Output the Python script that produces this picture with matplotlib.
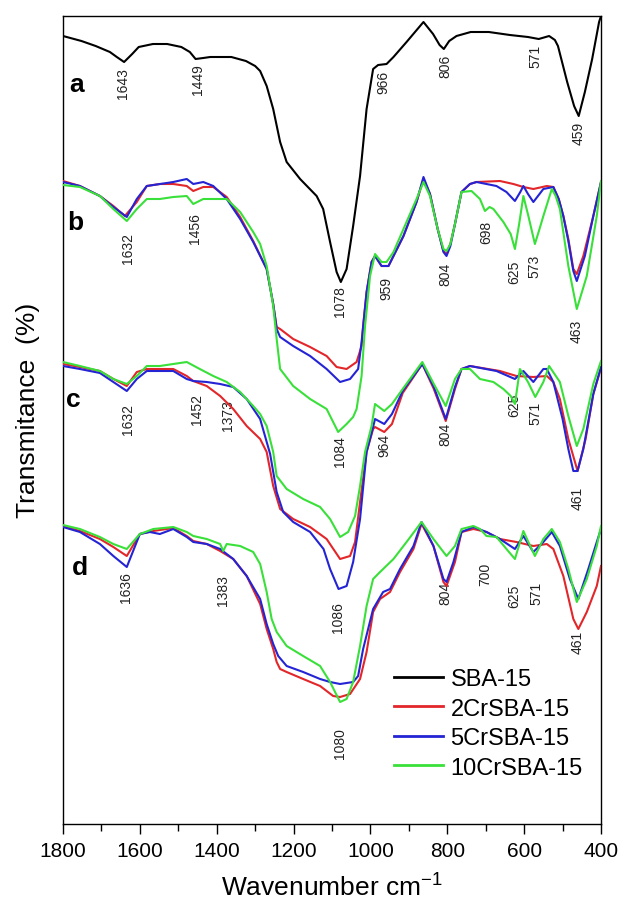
#!/usr/bin/env python3
"""FTIR spectra of SBA-15 and CrSBA-15 samples, stacked groups a-d."""

import matplotlib.pyplot as plt
from matplotlib.lines import Line2D
from matplotlib.ticker import MultipleLocator

plt.rcParams["font.family"] = ["Liberation Sans", "DejaVu Sans"]
plt.rcParams["mathtext.fontset"] = "custom"
plt.rcParams["mathtext.rm"] = "Liberation Sans"
plt.rcParams["mathtext.default"] = "regular"

SAMPLES = ["SBA-15", "2CrSBA-15", "5CrSBA-15", "10CrSBA-15"]
COLORS = ["#000000", "#e2262a", "#2424d4", "#3ae03a"]

# group a: SBA-15 (offset transmittance, arbitrary units)
A_WN = [1800, 1752, 1715, 1678, 1660, 1641, 1620, 1603, 1566, 1529, 1492, 1470, 1455, 1435, 1417,
        1362, 1324, 1300, 1287, 1270, 1253, 1235, 1218, 1183, 1140, 1123, 1105, 1088, 1077, 1062,
        1045, 1027, 1010, 993, 980, 958, 940, 906, 862, 837, 820, 809, 795, 776, 739, 692, 637,
        590, 562, 535, 520, 512, 500, 488, 470, 458, 442, 423, 405, 400]
A_T = [788, 783, 778, 772, 767, 762, 770, 777, 780, 780, 777, 772, 765, 766, 767,
       767, 763, 758, 753, 738, 715, 682, 662, 645, 628, 615, 582, 552, 542, 555,
       598, 648, 715, 755, 759, 760, 767, 782, 802, 790, 779, 775, 783, 788, 792, 792, 789,
       787, 785, 788, 784, 778, 760, 742, 718, 708, 732, 765, 802, 808]

# group b
B_RED_WN = [1800, 1756, 1704, 1669, 1639, 1608, 1582, 1548, 1513, 1478, 1461, 1435, 1409, 1374,
            1339, 1305, 1270, 1253, 1244, 1235, 1201, 1157, 1114, 1088, 1062, 1036, 1023, 1019,
            1010, 997, 988, 971, 953, 940, 914, 880, 862, 845, 825, 810, 802, 792, 780, 763, 741,
            724, 663, 628, 602, 576, 541, 524, 510, 498, 485, 472, 463, 446, 420, 400]
B_RED_T = [643, 638, 628, 618, 608, 622, 638, 640, 640, 638, 633, 637, 637, 627,
           607, 583, 555, 520, 497, 495, 485, 477, 468, 457, 455, 462, 478, 498,
           532, 562, 568, 558, 558, 568, 588, 622, 645, 630, 595, 573, 570, 580, 600, 632, 640,
           642, 643, 640, 637, 635, 638, 637, 625, 608, 585, 555, 550, 568, 608, 642]
B_BLUE_WN = [1800, 1756, 1704, 1669, 1634, 1608, 1582, 1513, 1478, 1461, 1435, 1409, 1374, 1339,
             1305, 1270, 1253, 1244, 1235, 1201, 1157, 1114, 1079, 1053, 1032, 1023, 1010, 997,
             988, 971, 953, 940, 914, 880, 862, 845, 825, 810, 802, 792, 780, 763, 741, 724, 672,
             646, 624, 610, 602, 590, 576, 560, 550, 524, 510, 498, 485, 472, 463, 442, 420, 400]
B_BLUE_T = [642, 638, 628, 617, 607, 625, 638, 642, 645, 640, 642, 638, 625, 605,
            582, 555, 520, 495, 487, 478, 468, 455, 442, 445, 455, 482, 532, 562,
            568, 558, 558, 568, 588, 622, 647, 630, 595, 572, 568, 578, 600, 632, 640, 642, 638,
            632, 623, 632, 638, 630, 622, 630, 635, 637, 625, 608, 583, 553, 543, 568, 608, 642]
B_GREEN_WN = [1800, 1756, 1704, 1669, 1634, 1608, 1582, 1548, 1513, 1478, 1461, 1435, 1374, 1339,
              1305, 1287, 1270, 1253, 1244, 1235, 1201, 1157, 1114, 1084, 1062, 1045, 1036, 1023,
              1014, 1001, 988, 971, 958, 940, 914, 880, 862, 845, 825, 810, 802, 792, 780, 763,
              737, 715, 702, 690, 680, 654, 635, 624, 613, 602, 589, 572, 560, 550, 528, 518, 507,
              485, 463, 437, 411, 400]
B_GREEN_T = [639, 637, 628, 615, 603, 615, 625, 625, 627, 628, 620, 625, 625, 612,
             592, 580, 558, 518, 485, 455, 438, 425, 415, 392, 400, 407, 415, 448,
             498, 548, 570, 562, 562, 572, 595, 625, 642, 628, 595, 575, 573, 580, 600, 632,
             633, 625, 613, 617, 615, 602, 590, 575, 600, 628, 608, 580, 595, 608, 635, 628, 615,
             558, 515, 548, 608, 643]

# group c
C_RED_WN = [1800, 1756, 1704, 1669, 1634, 1608, 1582, 1548, 1513, 1478, 1461, 1426, 1391, 1357,
            1322, 1287, 1270, 1253, 1235, 1201, 1157, 1114, 1079, 1053, 1040, 1027, 1010, 993,
            988, 964, 944, 916, 865, 835, 804, 780, 763, 741, 663, 620, 576, 541, 524, 507, 485,
            461, 440, 420, 400]
C_RED_T = [460, 457, 453, 445, 438, 452, 455, 455, 455, 448, 443, 438, 428, 415,
           398, 385, 372, 338, 315, 305, 297, 285, 265, 268, 282, 322, 372, 395,
           397, 392, 400, 431, 460, 435, 403, 435, 455, 458, 453, 448, 447, 448, 442, 425, 385,
           353, 385, 430, 456]
C_BLUE_WN = [1800, 1756, 1704, 1669, 1634, 1608, 1582, 1513, 1478, 1461, 1426, 1391, 1357, 1322,
             1287, 1261, 1244, 1227, 1201, 1157, 1122, 1105, 1083, 1062, 1045, 1027, 1010, 993,
             988, 964, 944, 916, 865, 835, 804, 780, 763, 741, 672, 624, 602, 576, 550, 541, 524,
             500, 485, 472, 461, 446, 420, 400]
C_BLUE_T = [458, 455, 451, 442, 433, 445, 453, 453, 445, 443, 442, 440, 437, 425,
            405, 370, 332, 312, 302, 292, 275, 255, 235, 238, 262, 305, 372, 397,
            405, 400, 410, 433, 460, 437, 405, 437, 455, 458, 453, 445, 453, 442, 455, 455, 442,
            405, 375, 353, 353, 375, 430, 457]
C_GREEN_WN = [1800, 1756, 1704, 1669, 1634, 1608, 1582, 1548, 1513, 1478, 1444, 1409, 1374, 1339,
              1305, 1287, 1270, 1253, 1244, 1218, 1175, 1131, 1105, 1079, 1058, 1040, 1027, 1014,
              997, 988, 964, 944, 916, 865, 835, 804, 780, 763, 741, 715, 680, 654, 635, 624, 611,
              590, 571, 550, 535, 507, 485, 463, 446, 420, 400]
C_GREEN_T = [462, 458, 453, 445, 440, 448, 458, 458, 460, 462, 455, 448, 442, 432,
             418, 410, 398, 372, 348, 335, 325, 317, 305, 287, 292, 308, 338, 372,
             398, 420, 413, 420, 435, 462, 440, 418, 445, 455, 455, 445, 442, 435, 428, 420, 455,
             442, 427, 442, 458, 442, 408, 378, 395, 440, 463]

# group d
D_RED_WN = [1800, 1756, 1704, 1669, 1634, 1600, 1565, 1513, 1478, 1461, 1426, 1391, 1357, 1322,
            1287, 1270, 1253, 1244, 1235, 1218, 1175, 1131, 1097, 1079, 1053, 1027, 1010, 993,
            975, 949, 923, 888, 867, 836, 810, 802, 780, 763, 732, 698, 663, 620, 576, 541, 524,
            498, 472, 459, 437, 411, 400]
D_RED_T = [298, 293, 285, 277, 268, 290, 293, 296, 288, 283, 280, 273, 265, 248,
           220, 195, 175, 162, 155, 152, 145, 138, 128, 127, 130, 145, 172, 212,
           225, 232, 252, 275, 300, 278, 242, 238, 262, 292, 295, 292, 285, 282, 278, 280, 275,
           248, 205, 195, 212, 238, 258]
D_BLUE_WN = [1800, 1756, 1704, 1669, 1634, 1600, 1574, 1548, 1513, 1478, 1461, 1426, 1391, 1357,
             1322, 1287, 1270, 1253, 1240, 1218, 1175, 1131, 1105, 1079, 1045, 1032, 1019, 993,
             967, 949, 923, 888, 867, 836, 810, 802, 784, 763, 732, 698, 663, 624, 602, 576, 550,
             528, 507, 481, 459, 433, 411, 400]
D_BLUE_T = [297, 292, 280, 268, 257, 290, 292, 290, 295, 287, 282, 280, 275, 265,
            248, 225, 200, 180, 168, 158, 152, 145, 142, 140, 142, 148, 175, 215,
            232, 235, 255, 278, 302, 278, 245, 242, 262, 292, 297, 292, 285, 275, 288, 272, 282,
            292, 278, 245, 225, 255, 282, 295]
D_GREEN_WN = [1800, 1756, 1704, 1669, 1634, 1600, 1565, 1513, 1478, 1461, 1426, 1391, 1383, 1374,
              1339, 1305, 1287, 1270, 1257, 1244, 1218, 1175, 1131, 1105, 1079, 1062, 1045, 1027,
              1010, 993, 975, 940, 906, 867, 836, 802, 780, 763, 732, 715, 698, 672, 646, 624,
              602, 589, 572, 550, 528, 507, 485, 463, 437, 411, 400]
D_GREEN_T = [299, 295, 287, 280, 275, 290, 295, 297, 292, 288, 285, 280, 273, 280,
             278, 272, 260, 232, 205, 192, 178, 168, 158, 142, 122, 125, 142, 178,
             218, 245, 252, 265, 282, 302, 285, 268, 278, 295, 298, 295, 288, 287, 275, 265,
             293, 282, 268, 285, 295, 282, 255, 222, 245, 278, 298]

# peak labels (wavenumber text) and where they sit
A_PEAKS = ["1643", "1449", "1078", "966", "806", "571", "459"]
A_PEAK_XY = [(1643, 741), (1449, 745), (1078, 523), (966, 743), (806, 759), (571, 769), (459, 692)]
B_PEAKS = ["1632", "1456", "1084", "959", "804", "698", "625", "573", "463"]
B_PEAK_XY = [(1632, 577), (1456, 596), (1080, 373), (959, 537), (804, 551), (698, 593),
             (625, 553), (573, 559), (463, 494)]
C_PEAKS = ["1632", "1452", "1373", "1086", "964", "804", "625", "571", "461"]
C_PEAK_XY = [(1632, 405), (1452, 415), (1371, 409), (1084, 207), (964, 380), (804, 391),
             (625, 420), (571, 412), (461, 327)]
D_PEAKS = ["1636", "1383", "1080", "804", "700", "625", "571", "461"]
D_PEAK_XY = [(1636, 237), (1383, 234), (1079, 81), (804, 232), (700, 251), (625, 229),
             (568, 232), (461, 183)]

GROUP_LETTERS = ["a", "b", "c", "d"]
LETTER_XY = [(1766, 740), (1769, 602), (1774, 425), (1756, 257)]


def main() -> None:
    fig = plt.figure(figsize=(6.23, 9.04), dpi=100)
    ax = fig.add_axes([63 / 623, 79 / 904, 538 / 623, 808 / 904])

    groups = [
        [(A_WN, A_T, COLORS[0])],
        [(B_RED_WN, B_RED_T, COLORS[1]), (B_BLUE_WN, B_BLUE_T, COLORS[2]),
         (B_GREEN_WN, B_GREEN_T, COLORS[3])],
        [(C_RED_WN, C_RED_T, COLORS[1]), (C_BLUE_WN, C_BLUE_T, COLORS[2]),
         (C_GREEN_WN, C_GREEN_T, COLORS[3])],
        [(D_RED_WN, D_RED_T, COLORS[1]), (D_BLUE_WN, D_BLUE_T, COLORS[2]),
         (D_GREEN_WN, D_GREEN_T, COLORS[3])],
    ]
    for group in groups:
        for wn, t, color in group:
            ax.plot(wn, t, color=color, linewidth=1.5, solid_joinstyle="round", zorder=3)

    for texts, positions in [(A_PEAKS, A_PEAK_XY), (B_PEAKS, B_PEAK_XY),
                             (C_PEAKS, C_PEAK_XY), (D_PEAKS, D_PEAK_XY)]:
        for text, (x, y) in zip(texts, positions):
            ax.text(x, y, text, rotation=90, ha="center", va="center",
                    fontsize=10, color="#222222", zorder=1)

    for letter, (x, y) in zip(GROUP_LETTERS, LETTER_XY):
        ax.text(x, y, letter, fontsize=19, fontweight="bold", ha="center", va="center")

    ax.set_xlim(1800, 400)
    ax.set_ylim(0, 808)
    ax.xaxis.set_major_locator(MultipleLocator(200))
    ax.xaxis.set_minor_locator(MultipleLocator(100))
    ax.tick_params(axis="x", which="major", length=7, width=1.0, labelsize=15, pad=5)
    ax.tick_params(axis="x", which="minor", length=5, width=1.0)
    ax.tick_params(axis="y", left=False, labelleft=False)
    for spine in ax.spines.values():
        spine.set_linewidth(1.0)

    fig.text(332 / 623, 16 / 904, "Wavenumber cm$^{-1}$", ha="center", va="center", fontsize=19)
    fig.text(28 / 623, (904 - 410) / 904, "Transmitance  (%)", rotation=90,
             ha="center", va="center", fontsize=19)

    handles = [Line2D([0], [0], color=c, linewidth=2.0, label=s) for s, c in zip(SAMPLES, COLORS)]
    ax.legend(handles=handles, loc="upper left", bbox_to_anchor=(0.615, 0.193),
              frameon=False, fontsize=17, handlelength=2.1, handletextpad=0.3,
              labelspacing=0.32, borderpad=0, borderaxespad=0)

    fig.savefig("out.png", dpi=100)
    plt.close(fig)


if __name__ == "__main__":
    main()
